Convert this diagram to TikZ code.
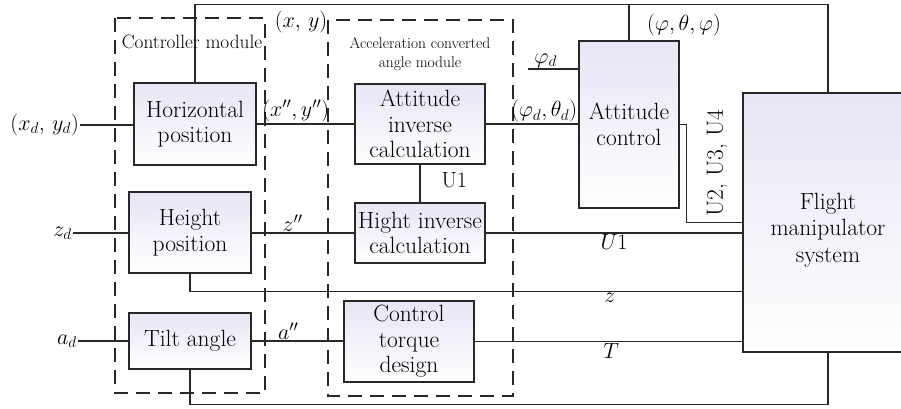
\RequirePackage{fix-cm}
\documentclass[tikz,border=0pt]{standalone}
\usetikzlibrary{positioning,calc}
\definecolor{boxtop}{RGB}{230,230,246}
\definecolor{linegray}{RGB}{40,40,40}

\begin{document}
\begin{tikzpicture}[x=1pt,y=-1pt,
  box/.style={draw=linegray,line width=1.2pt,top color=boxtop,bottom color=white,
              align=center,inner sep=0pt,font=\fontsize{23.5}{25.5}\selectfont},
  wire/.style={draw=linegray,line width=1.3pt},
  module/.style={draw=linegray,line width=1.1pt,dash pattern=on 14pt off 8pt},
  lbl/.style={font=\fontsize{22}{26}\selectfont,inner sep=1pt}
]
  \useasboundingbox (0,0) rectangle (901,409);

  % Module frames
  \draw[module] (115,18) rectangle (265,393);
  \draw[module] (328,20) rectangle (513,396);
  \node[font=\fontsize{19.3}{21}\selectfont] (ctlmod) at (192,42) {Controller module};
  \node[font=\fontsize{15.5}{19}\selectfont,align=center] (accmod) at (420,54) {Acceleration converted\\angle module};

  % Blocks
  \node[box,minimum width=122pt,minimum height=82pt] (hpos) at (195,124) {Horizontal\\position};
  \node[box,minimum width=122pt,minimum height=81pt] (height) at (190,232.5) {Height\\position};
  \node[box,minimum width=122pt,minimum height=56pt] (tilt) at (190,341) {Tilt angle};
  \node[box,minimum width=130pt,minimum height=80pt] (attinv) at (420,124) {Attitude\\inverse\\calculation};
  \node[box,minimum width=130pt,minimum height=60pt] (hinv) at (420,233) {Hight inverse\\calculation};
  \node[box,minimum width=130pt,minimum height=81pt] (torque) at (409,341.5) {Control\\torque\\design};
  \node[box,minimum width=100pt,minimum height=167pt] (attctl) at (629,124.5) {Attitude\\control};
  \node[box,minimum width=170pt,minimum height=259pt] (flight) at (828,222.5) {};
  \node[align=center,font=\fontsize{23.5}{26.5}\selectfont] (flighttxt) at (828,230) {Flight\\manipulator\\system};

  % Inputs
  \node[lbl,anchor=east] (xdyd) at (80,125) {$(x_d,\, y_d)$};
  \node[lbl,anchor=east] (zd) at (73,233) {$z_d$};
  \node[lbl,anchor=east] (ad) at (78,341) {$a_d$};
  \draw[wire] (xdyd.east) -- (xdyd.east -| hpos.west);
  \draw[wire] (zd.east) -- (zd.east -| height.west);
  \draw[wire] (ad.east) -- (ad.east -| tilt.west);

  % Forward paths
  \draw[wire] (hpos.east) -- node[lbl,above,pos=0.4]{$(x'', y'')$} (attinv.west);
  \draw[wire] (attinv.east) -- node[lbl,above,pos=0.63]{$(\varphi_d, \theta_d)$} (attctl.west |- attinv.east);
  \coordinate (phid) at (528,69);
  \draw[wire] (phid) -- node[lbl,above,pos=0.35]{$\varphi_d$} (phid -| attctl.west);
  \draw[wire] (attinv.south) -- node[lbl,right,pos=0.4,xshift=20pt]{U1} (hinv.north);
  \draw[wire] (height.east |- hinv.west) -- node[lbl,above,pos=0.4]{$z''$} (hinv.west);
  \draw[wire] (hinv.east) -- node[lbl,below,pos=0.5]{$U1$} (hinv.east -| flight.west);
  \draw[wire] (tilt.east) -- node[lbl,above,pos=0.4]{$a''$} (tilt.east -| torque.west);
  \draw[wire] (torque.east) -- node[lbl,below,pos=0.51]{$T$} (torque.east -| flight.west);
  \draw[wire] (attctl.east) -- ++(7,0) coordinate (uc) |- (flight.west);
  \node[box,draw=none,shade=none,fill=none,rotate=90] (ulbl) at (717,163) {U2, U3, U4};

  % Feedback paths
  \draw[wire] (height.south) -- ++(0,18) coordinate (zc) -- node[lbl,below,pos=0.76]{$z$} (zc -| flight.west);
  \draw[wire] (tilt.south) -- ++(0,35) -| (flight.south);
  \draw[wire] (flight.north) -- ++(0,-88) coordinate (topc) -| (hpos.north);
  \draw[wire] (attctl.north) -- (attctl.north |- topc);
  \node[lbl] (xy) at (301,22) {$(x,\, y)$};
  \node[lbl] (att) at (684,25) {$(\varphi, \theta, \varphi)$};
\end{tikzpicture}
\end{document}
